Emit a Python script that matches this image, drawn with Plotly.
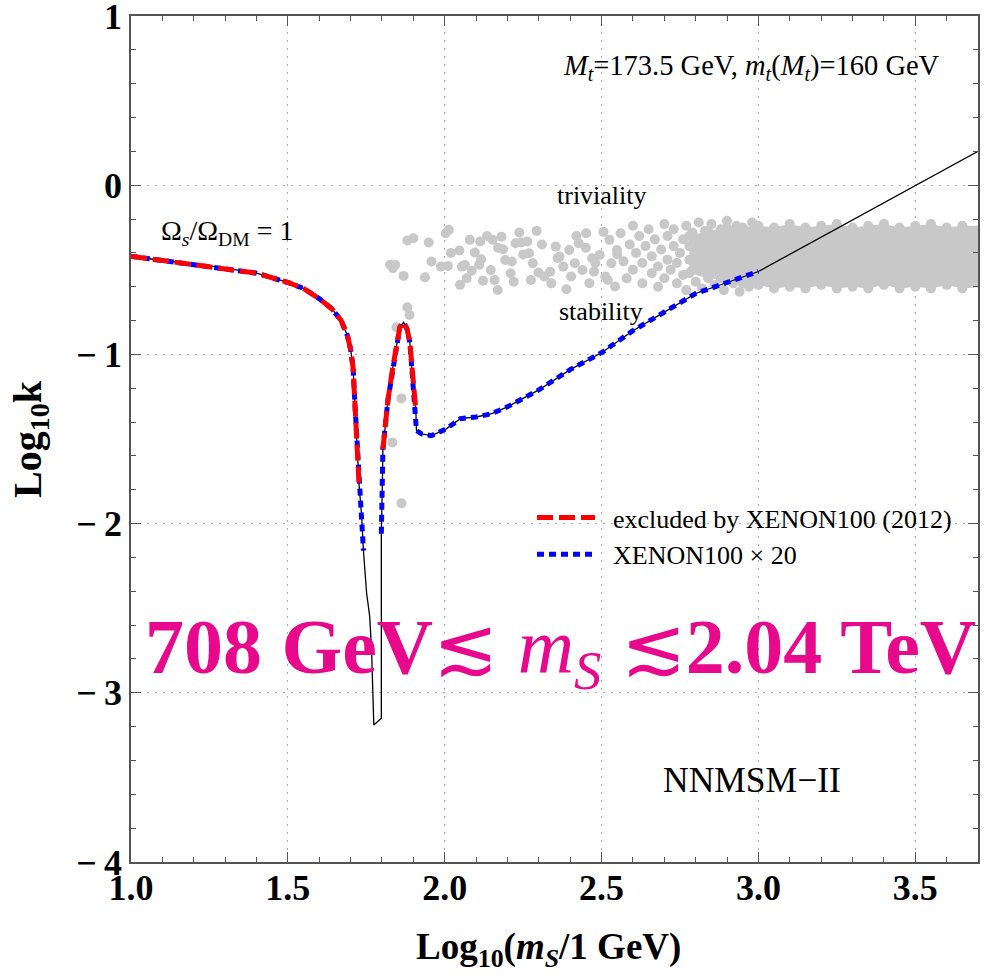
import plotly.graph_objects as go

# ---------------- data ----------------
curve_x = [1.00, 1.10, 1.20, 1.30, 1.40, 1.50, 1.55, 1.60, 1.64, 1.67, 1.69, 1.70, 1.708, 1.714, 1.721,
           1.727, 1.735, 1.741, 1.751, 1.761, 1.767, 1.774, 1.798, 1.798, 1.801, 1.803, 1.819, 1.835,
           1.857, 1.869, 1.880, 1.889, 1.899, 1.908, 1.910, 1.926, 1.958, 2.005, 2.05, 2.10, 2.15,
           2.20, 2.30, 2.40, 2.50, 2.60, 2.70, 2.80, 2.90, 3.00, 3.70]
curve_y = [-0.42, -0.445, -0.465, -0.49, -0.52, -0.575, -0.61, -0.67, -0.73, -0.80, -0.89, -0.97, -1.08,
           -1.30, -1.56, -1.77, -1.95, -2.16, -2.41, -2.55, -2.75, -3.19, -3.15, -2.06, -1.80, -1.56,
           -1.27, -1.07, -0.84, -0.81, -0.85, -0.93, -1.19, -1.33, -1.45, -1.47, -1.48, -1.44, -1.38,
           -1.37, -1.35, -1.31, -1.21, -1.09, -0.99, -0.86, -0.75, -0.64, -0.575, -0.51, 0.20]

# index ranges of the curve covered by each constraint
red_segments = [(0, 15), (25, 33)]
blue_segments = [(0, 17), (23, 49)]

# scattered (stability & triviality) points
pts_x = [1.842, 1.869, 1.881, 1.900, 1.881, 1.888, 1.846, 1.862, 1.833, 1.862, 1.826, 1.835,
         1.937, 1.949, 1.958, 1.988, 2.010, 2.013, 2.003, 2.047, 2.049, 2.055, 2.064, 2.080,
         2.086, 2.096, 2.113, 2.116, 2.122, 2.135, 2.153, 2.147, 2.159, 2.169, 2.181, 2.186,
         2.193, 2.214, 2.220, 2.226, 2.238, 2.244, 2.263, 2.269, 2.275, 2.281, 2.293, 2.299,
         2.317, 2.336, 2.354, 2.366, 2.378, 2.388, 2.397, 2.403, 2.415, 2.427, 2.439, 2.451,
         2.461, 2.470, 2.476, 2.494, 2.506, 2.512, 2.525, 2.531, 2.543, 2.549, 2.561,
         2.02, 2.07, 2.11, 2.17, 2.21, 2.25, 2.31, 2.34, 2.36, 2.42, 2.45, 2.48, 2.52, 2.55,
         2.57, 2.58, 2.59, 2.60, 2.60, 2.61, 2.62, 2.63, 2.63, 2.64, 2.65, 2.66, 2.66, 2.67,
         2.68, 2.68, 2.69, 2.70, 2.70, 2.71, 2.71, 2.72, 2.73, 2.73, 2.74, 2.74, 2.75, 2.76,
         2.76, 2.77, 2.77, 2.78, 2.78, 2.79, 2.79, 2.80, 2.80, 2.81, 2.81, 2.82, 2.82, 2.83,
         2.83, 2.84, 2.84, 2.85, 2.85, 2.86, 2.86, 2.87, 2.87, 2.88, 2.88, 2.89, 2.89, 2.90,
         2.90, 2.91, 2.91, 2.92, 2.92, 2.93, 2.93, 2.94, 2.94, 2.95, 2.96, 2.96, 2.97, 2.97,
         2.98, 2.98, 2.99, 2.99]
pts_y = [-0.471, -0.536, -0.327, -0.314, -0.721, -0.767, -0.84, -1.26, -1.52, -1.88, -0.47, -0.49,
         -0.544, -0.339, -0.451, -0.481, -0.477, -0.264, -0.284, -0.386, -0.589, -0.481, -0.471,
         -0.323, -0.505, -0.398, -0.333, -0.438, -0.564, -0.300, -0.323, -0.501, -0.560, -0.619,
         -0.304, -0.379, -0.442, -0.451, -0.570, -0.343, -0.280, -0.339, -0.333, -0.402, -0.560,
         -0.461, -0.270, -0.516, -0.540, -0.511, -0.363, -0.422, -0.481, -0.615, -0.383, -0.540,
         -0.461, -0.343, -0.501, -0.284, -0.579, -0.432, -0.511, -0.412, -0.276, -0.540, -0.323,
         -0.461, -0.599, -0.383, -0.284,
         -0.40, -0.55, -0.47, -0.37, -0.52, -0.41, -0.35, -0.58, -0.43, -0.30, -0.37, -0.46, -0.56,
         -0.41,
         -0.45, -0.55, -0.35, -0.24, -0.50, -0.40, -0.30, -0.58, -0.46, -0.36, -0.26, -0.52, -0.42,
         -0.32, -0.60, -0.48, -0.38, -0.23, -0.55, -0.44, -0.30, -0.50, -0.36, -0.26, -0.58, -0.46,
         -0.40, -0.32, -0.53, -0.24, -0.62, -0.44, -0.36, -0.50, -0.28, -0.57, -0.41, -0.33, -0.22,
         -0.47, -0.61, -0.38, -0.27, -0.54, -0.44, -0.31, -0.23, -0.59, -0.49, -0.40, -0.34, -0.26,
         -0.55, -0.45, -0.62, -0.36, -0.21, -0.51, -0.29, -0.42, -0.58, -0.33, -0.24, -0.48, -0.63,
         -0.38, -0.54, -0.27, -0.44, -0.60, -0.31, -0.22, -0.50, -0.40]

# outline of the dense part of the point cloud (upper edge left->right, lower edge right->left)
band_x = [2.78, 2.84, 2.90, 2.95, 3.00, 3.05, 3.10, 3.15, 3.20, 3.25, 3.30, 3.35, 3.40, 3.45, 3.50, 3.55,
          3.60, 3.65, 3.72,
          3.72, 3.65, 3.60, 3.55, 3.50, 3.45, 3.40, 3.35, 3.30, 3.25, 3.20, 3.15, 3.10, 3.05, 3.00,
          2.95, 2.90, 2.84, 2.78]
band_y = [-0.30, -0.27, -0.25, -0.25, -0.24, -0.25, -0.23, -0.25, -0.24, -0.23, -0.25, -0.24, -0.23,
          -0.25, -0.24, -0.23, -0.25, -0.24, -0.24,
          -0.60, -0.61, -0.59, -0.61, -0.60, -0.61, -0.59, -0.61, -0.60, -0.61, -0.59, -0.61, -0.60,
          -0.61, -0.59, -0.58, -0.56, -0.55, -0.52]

x_ticks = [1.0, 1.5, 2.0, 2.5, 3.0, 3.5]
x_ticktext = ["1.0", "1.5", "2.0", "2.5", "3.0", "3.5"]
y_ticks = [-4, -3, -2, -1, 0, 1]
y_ticktext = ["\u2212\u20094", "\u2212\u20093", "\u2212\u20092", "\u2212\u20091", "0", "1"]

legend_red = "\u00a0\u00a0excluded by XENON100 (2012)"
legend_blue = "\u00a0\u00a0XENON100 \u00d7 20"


def segs(vals, ranges):
    out = []
    for k, (a, b) in enumerate(ranges):
        if k:
            out.append(None)
        out.extend(vals[a:b + 1])
    return out


SERIF = "Liberation Serif, Times New Roman, serif"
GRAY = "#c8c8c8"
FRAME = "#555555"

fig = go.Figure()

fig.add_trace(go.Scatter(x=band_x, y=band_y, mode="lines+markers", fill="toself", fillcolor=GRAY,
                         line=dict(width=0, color=GRAY), marker=dict(size=10, color=GRAY),
                         showlegend=False, hoverinfo="skip"))
fig.add_trace(go.Scatter(x=pts_x, y=pts_y, mode="markers", marker=dict(size=10, color=GRAY),
                         showlegend=False))
fig.add_trace(go.Scatter(x=curve_x, y=curve_y, mode="lines", line=dict(color="black", width=1.3),
                         showlegend=False))
fig.add_trace(go.Scatter(x=segs(curve_x, blue_segments), y=segs(curve_y, blue_segments), mode="lines",
                         line=dict(color="#0000ff", width=5, dash="7px,5px"), name=legend_blue,
                         legendrank=2, connectgaps=False))
fig.add_trace(go.Scatter(x=segs(curve_x, red_segments), y=segs(curve_y, red_segments), mode="lines",
                         line=dict(color="#ff0000", width=5, dash="16px,6px"), name=legend_red,
                         legendrank=1, connectgaps=False))

axis_common = dict(showline=True, linecolor=FRAME, linewidth=1.5, mirror="ticks",
                   ticks="inside", ticklen=10, tickcolor=FRAME, tickwidth=1.2,
                   showgrid=True, gridcolor="#aaaaaa", griddash="2px,6px", gridwidth=1,
                   zeroline=False, automargin=False, ticklabeloverflow="allow",
                   tickfont=dict(family=SERIF, size=36, color="black", weight="bold"))

fig.update_xaxes(range=[1.0, 3.7], tickvals=x_ticks, ticktext=x_ticktext, ticklabelstandoff=-7,
                 minor=dict(dtick=0.1, ticks="inside", ticklen=5, tickcolor=FRAME, showgrid=False),
                 **axis_common)
fig.update_yaxes(range=[-4, 1], tickvals=y_ticks, ticktext=y_ticktext,
                 minor=dict(dtick=0.2, ticks="inside", ticklen=5, tickcolor=FRAME, showgrid=False),
                 **axis_common)

W, H = 993, 975
L, R, T, B = 131, 15, 16, 113
pw, ph = W - L - R, H - T - B


def px(xp):
    return (xp - L) / pw


def py(yp):
    return (H - B - yp) / ph


annots = [
    dict(text="Log<sub>10</sub>(<i>m<sub>S</sub></i>/1 GeV)", x=px(548), y=py(950),
         font=dict(family=SERIF, size=37, color="black", weight="bold")),
    dict(text="Log<sub>10</sub>k", x=px(30), y=py(439), textangle=-90,
         font=dict(family=SERIF, size=40, color="black", weight="bold")),
    dict(text="<i>M<sub>t</sub></i>=173.5 GeV, <i>m<sub>t</sub></i>(<i>M<sub>t</sub></i>)=160 GeV",
         x=px(751), y=py(68), font=dict(family=SERIF, size=28.5, color="black")),
    dict(text="triviality", x=px(602), y=py(196), font=dict(family=SERIF, size=26, color="black")),
    dict(text="stability", x=px(601), y=py(311), font=dict(family=SERIF, size=26, color="black")),
    dict(text="\u03a9<sub><i>s</i></sub>/\u03a9<sub>DM</sub> = 1", x=px(227), y=py(233),
         font=dict(family=SERIF, size=28, color="black")),
    dict(text="NNMSM\u2212II", x=px(752), y=py(780), font=dict(family=SERIF, size=35.5, color="black")),
    dict(text="<b>708 GeV</b>\u2272 <i>m<sub>S</sub></i> \u2272<b>2.04 TeV</b>", x=px(560), y=py(652),
         font=dict(family=SERIF, size=78, color="#e8088c")),
]
for a in annots:
    a.update(xref="paper", yref="paper", showarrow=False, xanchor="center", yanchor="middle")

fig.update_layout(
    width=W, height=H,
    margin=dict(l=L, r=R, t=T, b=B),
    paper_bgcolor="white", plot_bgcolor="white",
    annotations=annots,
    legend=dict(x=px(532), y=py(494), xanchor="left", yanchor="top", bgcolor="rgba(0,0,0,0)",
                font=dict(family=SERIF, size=26, color="black"), itemwidth=58,
                tracegroupgap=0),
    showlegend=True,
)

fig.write_html("out.html", post_script="document.body.style.margin='0px';",
               config={"displayModeBar": False})
